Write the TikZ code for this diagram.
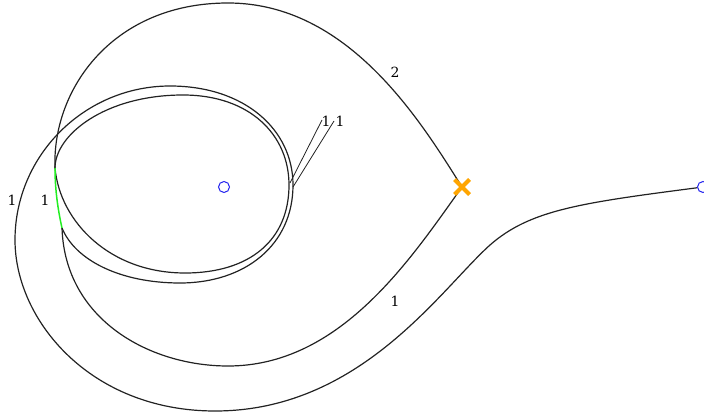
\documentclass[tikz,border=0pt]{standalone}
\usepackage{fontspec}
\setmainfont{DejaVu Serif}
\usetikzlibrary{shapes.misc}
\definecolor{edgec}{HTML}{222222}
\definecolor{vblue}{HTML}{2222EE}
\definecolor{xorange}{HTML}{FFA500}
\definecolor{lime}{HTML}{22EE22}
\tikzset{
  edge/.style={draw=edgec, line width=1.2pt},
  greenedge/.style={draw=lime, line width=1.5pt},
  vtx/.style={circle, draw=vblue, line width=1pt, minimum size=11pt, inner sep=0pt},
  xmark/.style={cross out, draw=xorange, line width=4pt, minimum size=11pt, inner sep=0pt},
  lbl/.style={font=\fontsize{14}{16}\selectfont, inner sep=1pt},
  leader/.style={draw=edgec, line width=0.8pt}
}
\begin{document}
\begin{tikzpicture}[x=1pt,y=-1pt]
\useasboundingbox (0,0) rectangle (704,414);
\node[vtx] (C) at (224,187) {};
\node[vtx] (R) at (703,187) {};
\coordinate (X) at (462,187);
\coordinate (V1) at (55,168);
\coordinate (V2) at (62,228);
% teardrop upper
\draw[edge] (X) .. controls (420,120) and (348,3) .. (228,3)
  .. controls (112,3) and (52,90) .. (V1);
% teardrop lower
\draw[edge] (V2) .. controls (65,320) and (150,366) .. (228,366)
  .. controls (340,366) and (410,260) .. (X);
% spiral
\draw[edge] (R) .. controls (580,203) and (530,210) .. (490,245)
  .. controls (440,290) and (360,411) .. (215,411)
  .. controls (90,411) and (15,320) .. (15,240)
  .. controls (15,155) and (85,86) .. (170,86)
  .. controls (245,86) and (293,130) .. (293,185)
  .. controls (293,245) and (245,283) .. (180,283)
  .. controls (120,283) and (75,260) .. (V2);
% inner loop
\draw[edge] (V1) .. controls (55,135) and (105,95) .. (183,95)
  .. controls (250,95) and (289,135) .. (289,185)
  .. controls (289,240) and (250,273) .. (185,273)
  .. controls (110,273) and (60,222) .. (V1);
% green
\draw[greenedge] (V1) .. controls (55,190) and (58,210) .. (V2);
% X marker
\node[xmark] (Xm) at (X) {};
% labels
\node[lbl] (l2) at (395,72) {2};
\node[lbl] (l1a) at (395,301) {1};
\node[lbl] (l1b) at (12,200) {1};
\node[lbl] (l1c) at (45,200) {1};
\node[lbl] (l1d) at (326,121) {1};
\node[lbl] (l1e) at (340,121) {1};
\coordinate (p1) at (290,183);
\coordinate (p2) at (293,187);
\draw[leader] (p1) -- (322,120);
\draw[leader] (p2) -- (334,121);
\end{tikzpicture}
\end{document}
